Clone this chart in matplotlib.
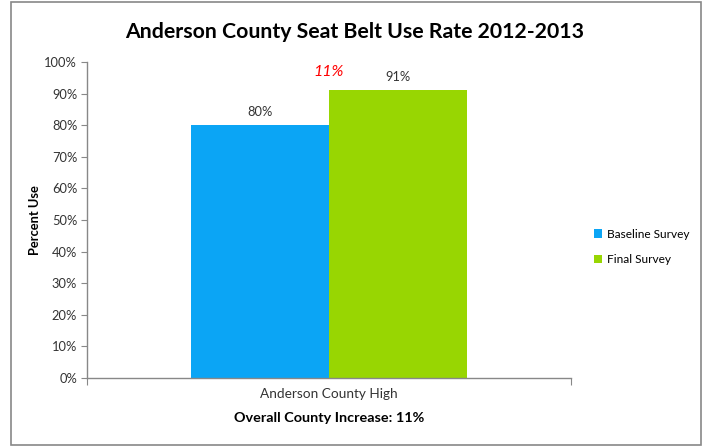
import matplotlib.pyplot as plt
from matplotlib.patches import Rectangle

plt.rcParams['font.family'] = ['Lato', 'DejaVu Sans']

category = 'Anderson County High'
series = ['Baseline Survey', 'Final Survey']
values = [80, 91]
colors = ['#0ba5f5', '#98d602']
increase = values[1] - values[0]

fig = plt.figure(figsize=(7.09, 4.46), dpi=100)
ax = fig.add_axes([87 / 709, 68 / 446, 484 / 709, 316 / 446])

width = 0.286
offsets = [-width / 2, width / 2]
bars = []
for name, val, col, off in zip(series, values, colors, offsets):
    b = ax.bar(off, val, width=width, color=col, label=name)
    bars.append(b)
    ax.text(off, val + 2.3, f"{val}%", ha='center', va='bottom', fontsize=9.3, color='#333333')

# increase label above the gap between bars
ax.text(0, values[1] + 3.6, f"{increase}%", ha='center', va='bottom', fontsize=11.5,
        color='red', style='italic')

ax.set_xlim(-0.5, 0.5)
ax.set_ylim(0, 100)
ax.set_yticks(range(0, 101, 10))
ax.set_yticklabels([f"{t}%" for t in range(0, 101, 10)], fontsize=9.3, color='#333333')
ax.set_xticks([-0.5, 0.5])
ax.set_xticklabels(['', ''])
ax.tick_params(axis='y', length=4, color='#888888', pad=3)
ax.tick_params(axis='x', length=5, color='#888888', direction='out')
for s in ['top', 'right']:
    ax.spines[s].set_visible(False)
for s in ['left', 'bottom']:
    ax.spines[s].set_color('#888888')
    ax.spines[s].set_linewidth(1)

ax.set_ylabel('Percent Use', fontsize=9.3, fontweight='bold')
ax.yaxis.set_label_coords(-0.095, 0.5)

fig.text(329 / 709, 1 - 394 / 446, category, ha='center', va='center', fontsize=9.8, color='#333333')
fig.text(329 / 709, 1 - 418 / 446, f"Overall County Increase: {increase}%", ha='center',
         va='center', fontsize=10.4, fontweight='bold')
fig.text(355 / 709, 1 - 32 / 446, 'Anderson County Seat Belt Use Rate 2012-2013', ha='center',
         va='center', fontsize=15.3, fontweight='bold')

fig.legend(handles=[b[0] for b in bars], labels=series, loc='center left',
           bbox_to_anchor=(583 / 709, 1 - 247 / 446), frameon=False, fontsize=8.6,
           handlelength=0.7, handleheight=0.7, handletextpad=0.4, labelspacing=1.2)

fig.patches.append(Rectangle((11 / 709, 1 / 446), 690 / 709, 443 / 446, transform=fig.transFigure,
                             fill=False, edgecolor='#888888', linewidth=1.2))

plt.savefig('out.png', dpi=100)
